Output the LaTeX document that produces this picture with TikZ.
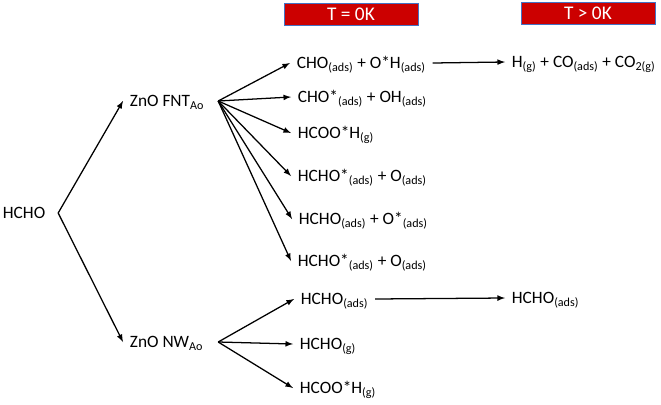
\documentclass[tikz,border=0pt]{standalone}
\usepackage{fontspec}
\setmainfont{Carlito}
\usepackage{tikz}
\usetikzlibrary{arrows}
\usetikzlibrary{calc}
\definecolor{boxred}{HTML}{CC0000}
\definecolor{boxline}{HTML}{4472C4}
\newcommand{\adsub}{\textsubscript{(ads)}}
\newcommand{\gsub}{\textsubscript{(g)}}

\begin{document}
\begin{tikzpicture}[x=0.75pt,y=-0.75pt,
  chem/.style={font=\fontsize{13}{16}\selectfont, anchor=west, inner xsep=5pt, inner ysep=0pt, text height=8.4pt, text depth=0pt},
  tbox/.style={fill=boxred, draw=boxline, line width=0.6pt, text=white, font=\fontsize{14.5}{17}\selectfont, minimum width=100.5pt, minimum height=17pt, inner sep=0pt},
  path/.style={black, line width=0.95pt, -latex}]
\useasboundingbox (0,0) rectangle (661,404);

\node[tbox] (cold) at (351,14.5) {T = 0K};
\node[tbox] (warm) at (588,13.5) {T > 0K};

\node[chem] (hcho) at (-4,213) {HCHO};
\node[chem] (fnt) at (123,101) {ZnO FNT\textsubscript{Ao}};
\node[chem] (nw) at (123,342) {ZnO NW\textsubscript{Ao}};
\coordinate (hchofork) at ($(hcho.east)+(6,0)$);
\coordinate (fntfork) at ($(fnt.east)+(7,0)$);
\coordinate (nwfork) at ($(nw.east)+(8,0)$);

%% FNT products
\node[chem] (p1) at (290,63) {CHO\adsub{} + O*H\adsub};
\node[chem] (p2) at (291,97) {CHO*\adsub{} + OH\adsub};
\node[chem] (p3) at (291,133) {HCOO*H\gsub};
\node[chem] (p4) at (291,176) {HCHO*\adsub{} + O\adsub};
\node[chem] (p5) at (292,219) {HCHO\adsub{} + O*\adsub};
\node[chem] (p6) at (291,261) {HCHO*\adsub{} + O\adsub};
\node[chem] (r1) at (505,62) {H\gsub{} + CO\adsub{} + CO\textsubscript{2(g)}};

%% NW products
\node[chem] (q1) at (294,299) {HCHO\adsub};
\node[chem] (q2) at (293,344) {HCHO\gsub};
\node[chem] (q3) at (293,388) {HCOO*H\gsub};
\node[chem] (r2) at (505,298) {HCHO\adsub};

\draw[path] (hchofork) -- (fnt.west);
\draw[path] (hchofork) -- (nw.west);
\foreach \p in {p1,p2,p3,p4,p5,p6}
    \draw[path] (fntfork) -- (\p.west);
\foreach \q in {q1,q2,q3}
    \draw[path] (nwfork) -- (\q.west);
\draw[path] (p1.east) -- (r1.west);
\draw[path] (q1.east) -- (r2.west);
\end{tikzpicture}
\end{document}
